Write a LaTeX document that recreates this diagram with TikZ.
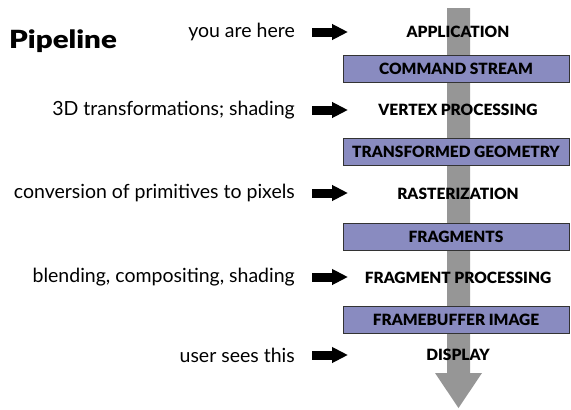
\documentclass[tikz,border=0pt]{standalone}
\usepackage{fontspec}
\setmainfont{Lato}
\newfontfamily\heavy{Lato Black}
\usetikzlibrary{arrows.meta}
\definecolor{boxfill}{RGB}{137,139,192}
\definecolor{shaftgray}{RGB}{150,150,150}
\tikzset{
  note/.style={anchor=east, inner sep=0pt, font=\fontsize{19.5}{22}\selectfont},
  stage/.style={inner sep=0pt, font=\heavy\fontsize{15.5}{18}\selectfont},
  databox/.style={draw=black!80, line width=0.8pt, fill=boxfill, minimum width=226pt, minimum height=27pt, inner sep=0pt, font=\heavy\fontsize{15.5}{18}\selectfont},
  bigarrow/.style={line width=9pt, -{Triangle[length=16pt,width=15pt]}}
}
\begin{document}
\begin{tikzpicture}[x=1pt,y=-1pt]
\useasboundingbox (0,0) rectangle (571,410);
% main gray arrow
\fill[shaftgray] (447,8) -- (470,8) -- (470,373) -- (482,373) -- (458.5,408) -- (435,373) -- (447,373) -- cycle;
% title
\node[anchor=base west, inner sep=0pt, font=\heavy\fontsize{25}{28}\selectfont] (title) at (9,48) {\scalebox{1.18}[1]{Pipeline}};
% stages
\node[stage] (s1) at (458,32) {APPLICATION};
\node[databox] (b1) at (456,68.5) {COMMAND STREAM};
\node[stage] (s2) at (458,110) {VERTEX PROCESSING};
\node[databox] (b2) at (456,152) {TRANSFORMED GEOMETRY};
\node[stage] (s3) at (458,194) {RASTERIZATION};
\node[databox] (b3) at (456,237) {FRAGMENTS};
\node[stage] (s4) at (458,278) {FRAGMENT PROCESSING};
\node[databox] (b4) at (456,320) {FRAMEBUFFER IMAGE};
\node[stage] (s5) at (458,355) {DISPLAY};
% notes
\node[note] (n1) at (295,32) {you are here};
\node[note] (n2) at (295,110) {3D transformations; shading};
\node[note] (n3) at (295,193) {conversion of primitives to pixels};
\node[note] (n4) at (295,277) {blending, compositing, shading};
\node[note] (n5) at (295,355) {user sees this};
% arrows
\foreach \i/\y in {1/32,2/110,3/193,4/277,5/355}{
  \coordinate (a\i s) at (312,\y);
  \coordinate (a\i e) at (348,\y);
  \draw[bigarrow] (a\i s) -- (a\i e);
}
\end{tikzpicture}
\end{document}
